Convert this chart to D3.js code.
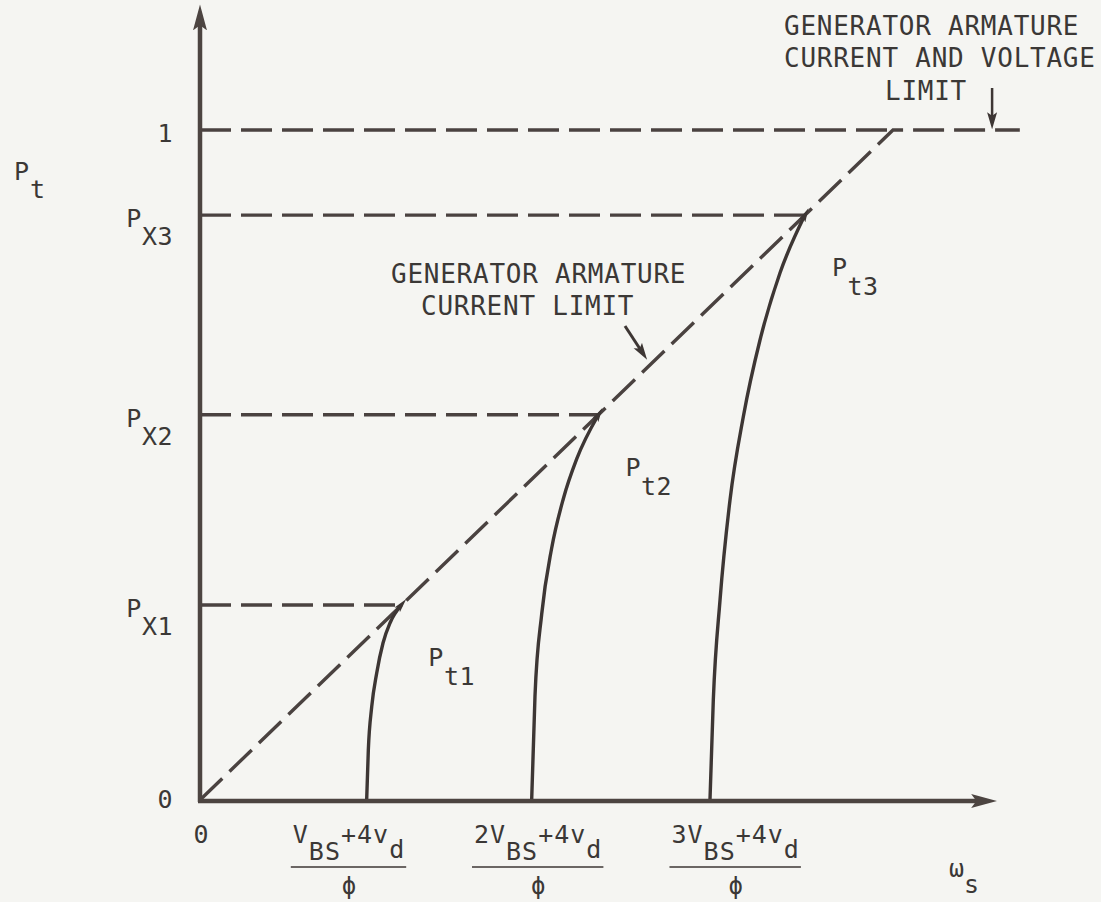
<!DOCTYPE html>
<html><head><meta charset="utf-8">
<script src="https://cdn.jsdelivr.net/npm/d3@7"></script>
<style>
html,body{margin:0;padding:0;background:#f5f5f2;}
svg{display:block;}
text{font-family:"DejaVu Sans Mono",monospace;fill:#3b3836;}
</style></head><body>
<svg id="chart" width="1101" height="902"></svg>
<script>
// Normalised units: ω_s and P_t are scaled so the armature current limit is P = ω
const yTickValues = [0, 0.291, 0.575, 0.873, 1];
const yTickMain = ["0", "P", "P", "P", "1"];
const yTickSub = ["", "X1", "X2", "X3", ""];

const baseSpeeds = [0.2405, 0.4786, 0.7359];   // (kV_BS + 4v_d)/ϕ
const baseCoef = ["", "2", "3"];
const limitPowers = [0.291, 0.575, 0.873];     // P_X1 .. P_X3
const curveNames = ["t1", "t2", "t3"];

const pt1 = [[0.2405, 0], [0.2429, 0.0746], [0.2478, 0.1393], [0.2550, 0.1896],
             [0.2641, 0.2343], [0.2742, 0.2642], [0.2905, 0.2910]];
const pt2 = [[0.4786, 0], [0.4834, 0.1552], [0.4931, 0.2776], [0.5075, 0.3761],
             [0.5242, 0.4493], [0.5436, 0.5090], [0.5750, 0.5750]];
const pt3 = [[0.7359, 0], [0.7407, 0.1493], [0.7504, 0.2985], [0.7648, 0.4478],
             [0.7840, 0.5721], [0.8081, 0.6866], [0.8369, 0.7866], [0.8730, 0.8730]];
const powerCurves = [pt1, pt2, pt3];

const omegaAxisEnd = 1.147;
const powerAxisEnd = 1.184;
const voltageLimitEnd = 1.183;

const svg = d3.select("#chart");
const x = d3.scaleLinear().domain([0, 1]).range([200, 893]);
const y = d3.scaleLinear().domain([0, 1]).range([800, 130]);

const ink = "#3d3634";
const axisInk = "#4c4441";

// arrowheads
const defs = svg.append("defs");
function arrow(id, len, wid, fill) {
  defs.append("marker")
    .attr("id", id).attr("markerUnits", "userSpaceOnUse")
    .attr("viewBox", `0 0 ${len} ${wid}`)
    .attr("markerWidth", len).attr("markerHeight", wid)
    .attr("refX", len * 0.45).attr("refY", wid / 2).attr("orient", "auto")
    .append("path")
    .attr("d", `M0,0.5 L${len},${wid / 2} L0,${wid - 0.5} L${len * 0.2},${wid / 2} Z`)
    .attr("fill", fill);
}
arrow("axisHead", 26, 15, axisInk);
arrow("curveHead", 14, 8, ink);
arrow("noteHead", 17, 11, ink);

const line = d3.line().x(d => x(d[0])).y(d => y(d[1]));
const dashed = { "stroke": "#4a4240", "stroke-width": 3.4, "stroke-dasharray": "31,10", "fill": "none" };
function applyAttrs(sel, attrs) { Object.entries(attrs).forEach(([k, v]) => sel.attr(k, v)); return sel; }

// current limit line running into the voltage limit
applyAttrs(svg.append("path").attr("d", line([[0, 0], [1, 1], [voltageLimitEnd, 1]])), dashed);
applyAttrs(svg.append("path").attr("d", line([[0, 1], [1, 1]])), dashed);

// power levels P_X1..P_X3
limitPowers.forEach(p => {
  applyAttrs(svg.append("path").attr("d", line([[0, p], [p, p]])), dashed);
});

// power curves P_t1..P_t3
const curveLine = d3.line().x(d => x(d[0])).y(d => y(d[1])).curve(d3.curveMonotoneX);
powerCurves.forEach((pts, i) => {
  svg.append("path")
    .attr("d", curveLine(pts))
    .attr("fill", "none").attr("stroke", ink).attr("stroke-width", 3.4)
    .attr("marker-end", "url(#curveHead)");
  const top = pts[pts.length - 1];
  const t = svg.append("text")
    .attr("x", x(top[0]) + 27).attr("y", y(top[1]) + 61)
    .attr("font-size", 25).attr("letter-spacing", 0.5);
  t.append("tspan").text("P");
  t.append("tspan").attr("dy", 19).text(curveNames[i]);
});

// axes
svg.append("line")
  .attr("x1", x(0)).attr("y1", y(0) + 2).attr("x2", x(0)).attr("y2", y(powerAxisEnd) + 12)
  .attr("stroke", axisInk).attr("stroke-width", 4.5).attr("marker-end", "url(#axisHead)");
svg.append("line")
  .attr("x1", x(0) - 2).attr("y1", y(0) + 1).attr("x2", x(omegaAxisEnd) - 12).attr("y2", y(0) + 1)
  .attr("stroke", axisInk).attr("stroke-width", 4.5).attr("marker-end", "url(#axisHead)");

// power tick labels
yTickValues.forEach((v, i) => {
  const t = svg.append("text")
    .attr("x", x(0) - 27).attr("y", y(v) + (v === 0 ? 8 : 12))
    .attr("text-anchor", "end").attr("font-size", 25).attr("letter-spacing", 0.5);
  t.append("tspan").text(yTickMain[i]);
  if (yTickSub[i]) t.append("tspan").attr("dy", 18).text(yTickSub[i]);
});

// speed tick labels
svg.append("text").attr("x", x(0) + 1).attr("y", 843)
  .attr("text-anchor", "middle").attr("font-size", 25).text("0");

const fracCentre = [0.215, 0.488, 0.773];
baseSpeeds.forEach((w, i) => {
  const cx = x(fracCentre[i]);
  const num = svg.append("text")
    .attr("x", cx).attr("y", 843)
    .attr("text-anchor", "middle").attr("font-size", 25).attr("letter-spacing", 1);
  num.append("tspan").text(baseCoef[i] + "V");
  num.append("tspan").attr("dy", 17).text("BS");
  num.append("tspan").attr("dy", -17).text("+4v");
  num.append("tspan").attr("dy", 15).text("d");
  const bb = num.node().getBBox();
  svg.append("line")
    .attr("x1", bb.x - 2).attr("x2", bb.x + bb.width + 1)
    .attr("y1", 867).attr("y2", 867)
    .attr("stroke", ink).attr("stroke-width", 1.6);
  svg.append("text").attr("x", cx).attr("y", 894)
    .attr("text-anchor", "middle").attr("font-size", 24).text("\u03D5");
});

// axis titles
const pt = svg.append("text").attr("x", 14).attr("y", 180).attr("font-size", 25).attr("letter-spacing", 1);
pt.append("tspan").text("P");
pt.append("tspan").attr("dy", 18).text("t");

const ws = svg.append("text").attr("x", 949).attr("y", 877).attr("font-size", 25);
ws.append("tspan").text("\u03C9");
ws.append("tspan").attr("dy", 16).text("s");

// annotations
function note(lines) {
  lines.forEach(([tx, ty, s]) => {
    svg.append("text").attr("x", tx).attr("y", ty)
      .attr("font-size", 26).attr("letter-spacing", 0.75).text(s);
  });
}
note([[784, 35, "GENERATOR ARMATURE"], [784, 67, "CURRENT AND VOLTAGE"], [885, 100, "LIMIT"]]);
note([[391, 283, "GENERATOR ARMATURE"], [421, 315, "CURRENT LIMIT"]]);

svg.append("line")
  .attr("x1", x(1.143)).attr("y1", 88).attr("x2", x(1.143)).attr("y2", y(1) - 10)
  .attr("stroke", ink).attr("stroke-width", 2.5).attr("marker-end", "url(#noteHead)");
svg.append("line")
  .attr("x1", 625).attr("y1", 326).attr("x2", 642).attr("y2", 352)
  .attr("stroke", ink).attr("stroke-width", 3).attr("marker-end", "url(#noteHead)");
</script>
</body></html>
